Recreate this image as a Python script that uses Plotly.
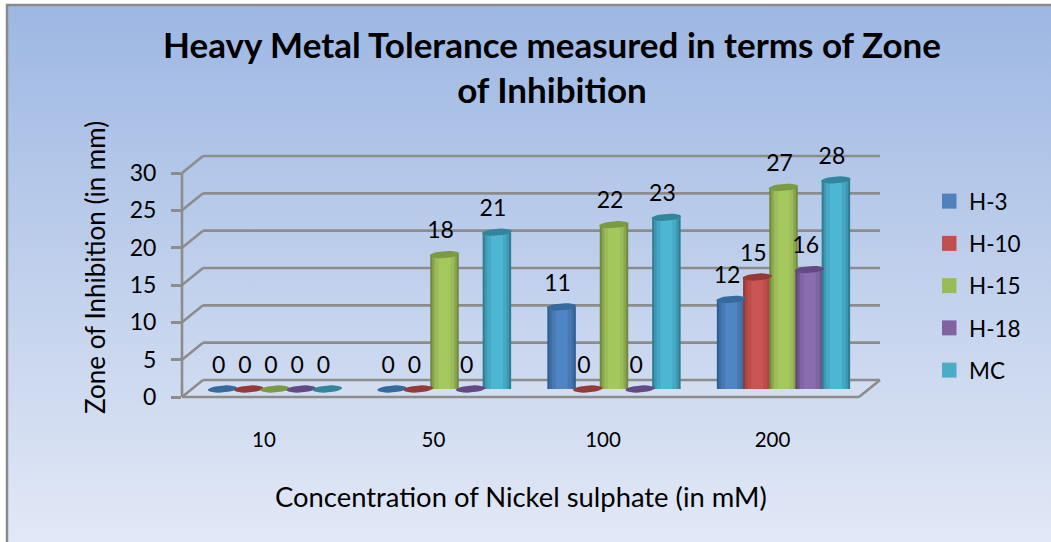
import math
import plotly.graph_objects as go

categories = ["10", "50", "100", "200"]
series_names = ["H-3", "H-10", "H-15", "H-18", "MC"]
h3 = [0, 0, 11, 12]
h10 = [0, 0, 0, 15]
h15 = [0, 18, 22, 27]
h18 = [0, 0, 0, 16]
mc = [0, 21, 23, 28]
series_values = [h3, h10, h15, h18, mc]
y_ticks = [0, 5, 10, 15, 20, 25, 30]
title_text = "Heavy Metal Tolerance measured in terms of Zone<br>of Inhibition"
x_title = "Concentration of Nickel sulphate (in mM)"
y_title = "Zone of Inhibition (in mm)"

base_colors = ["#4F81BD", "#C0504D", "#9BBB59", "#8064A2", "#4BACC6"]
shades = [
    ["#2F5D8F", "#3D6FA6", "#4778B2", "#4F85C4"],
    ["#8F3B39", "#AA4644", "#BC4D4B", "#CB5552"],
    ["#72893F", "#8BA74E", "#9BBC58", "#A4C75E"],
    ["#5B4677", "#71598F", "#8064A4", "#8A6CB0"],
    ["#2F7D93", "#3E98B1", "#46A8C4", "#4DB6D3"],
]
top_colors = ["#366A9F", "#943A38", "#7C9A46", "#634A87", "#31859C"]
layer_fracs = [1.0, 0.86, 0.68, 0.42]

W, H = 1051, 542
L, R, T, B = 182, 880, 120, 397
PX_Y = 224 / 30
PX_GROUP = 169.5
GROUP0 = 275
PX_STEP = 26.2
BAR_PX = 28.5
BASE = 8 / PX_Y
DX_WALL = 21

x_min = (L - GROUP0) / PX_GROUP
x_max = (R - GROUP0) / PX_GROUP
y_max = (B - T) / PX_Y


def dx(px):
    return px / PX_GROUP


def paper_x(px):
    return (px - L) / (R - L)


def paper_y(px):
    return (B - px) / (B - T)


fig = go.Figure()

for s, name in enumerate(series_names):
    xs = [i + dx((s - 2) * PX_STEP) for i in range(len(categories))]
    for frac, col in zip(layer_fracs, shades[s]):
        fig.add_trace(go.Bar(
            x=xs, y=series_values[s], base=[BASE] * len(xs),
            width=[dx(BAR_PX) * frac] * len(xs),
            marker=dict(color=col, line=dict(width=0)),
            showlegend=False, hoverinfo="skip",
        ))
    ex, ey = [], []
    for xc, v in zip(xs, series_values[s]):
        for a in range(0, 361, 15):
            ca, sa = math.cos(math.radians(a)), math.sin(math.radians(a))
            ex.append(xc + dx(BAR_PX / 2 + 0.5) * ca)
            ey.append(v + BASE + (3.5 * sa + 1.0 * ca) / PX_Y)
        ex.append(None)
        ey.append(None)
    fig.add_trace(go.Scatter(
        x=ex, y=ey, mode="lines", fill="toself", fillcolor=top_colors[s],
        line=dict(width=0, color=top_colors[s]),
        showlegend=False, hoverinfo="skip",
    ))

for s, name in enumerate(series_names):
    xs = [i + dx((s - 2) * PX_STEP - 4) for i in range(len(categories))]
    ys = [v + BASE + 22 / PX_Y for v in series_values[s]]
    fig.add_trace(go.Scatter(
        x=xs, y=ys, mode="text", text=[str(v) for v in series_values[s]],
        textfont=dict(family="Lato", size=23, color="#000000"),
        textposition="middle center", showlegend=False, hoverinfo="skip",
        cliponaxis=False,
    ))

for s, name in enumerate(series_names):
    fig.add_trace(go.Scatter(
        x=[None], y=[None], mode="markers", name=name, legendgroup=name,
        marker=dict(symbol="square", size=15, color=base_colors[s]),
    ))

GRID = "#8C8C8C"
shapes = []
shapes.append(dict(type="path", xref="paper", yref="paper", layer="below",
                   path=f"M {paper_x(L)} {paper_y(B)} L {paper_x(L+DX_WALL)} {paper_y(B-17)} "
                        f"L {paper_x(R)} {paper_y(B-17)} L {paper_x(R-DX_WALL)} {paper_y(B)} Z",
                   fillcolor="rgba(228,234,247,0.2)", line=dict(width=0)))
for t in y_ticks:
    py = B - t * PX_Y
    shapes.append(dict(type="line", xref="paper", yref="paper", layer="below",
                       x0=paper_x(L + DX_WALL), x1=paper_x(R), y0=paper_y(py - 17), y1=paper_y(py - 17),
                       line=dict(color=GRID, width=2.6)))
    shapes.append(dict(type="line", xref="paper", yref="paper", layer="below",
                       x0=paper_x(L), x1=paper_x(L + DX_WALL), y0=paper_y(py), y1=paper_y(py - 17),
                       line=dict(color=GRID, width=2.6)))
shapes.append(dict(type="line", xref="paper", yref="paper", layer="below",
                   x0=paper_x(L), x1=paper_x(L), y0=paper_y(B), y1=paper_y(B - 30 * PX_Y),
                   line=dict(color=GRID, width=2.6)))
shapes.append(dict(type="line", xref="paper", yref="paper", layer="below",
                   x0=paper_x(L), x1=paper_x(R - DX_WALL), y0=paper_y(B), y1=paper_y(B),
                   line=dict(color=GRID, width=2.6)))
shapes.append(dict(type="line", xref="paper", yref="paper", layer="below",
                   x0=paper_x(R - DX_WALL), x1=paper_x(R), y0=paper_y(B), y1=paper_y(B - 17),
                   line=dict(color=GRID, width=2.6)))
shapes.append(dict(type="rect", xref="paper", yref="paper", layer="below",
                   x0=paper_x(7), x1=paper_x(W + 10), y0=paper_y(5), y1=paper_y(H + 10),
                   line=dict(color="#8A8A8A", width=2.5), fillcolor="rgba(0,0,0,0)"))

svg = ("data:image/svg+xml;utf8,<svg xmlns='http://www.w3.org/2000/svg' width='100' height='100' "
       "preserveAspectRatio='none'><defs><linearGradient id='g' x1='0' y1='0' x2='0' y2='1'>"
       "<stop offset='0' stop-color='%239DB7E3'/><stop offset='0.5' stop-color='%23C0D0EC'/>"
       "<stop offset='1' stop-color='%23E2E8F6'/></linearGradient></defs>"
       "<rect width='100' height='100' fill='url(%23g)'/></svg>")

annotations = [
    dict(text=x_title, xref="paper", yref="paper", x=paper_x(521), y=paper_y(496),
         xanchor="center", yanchor="middle", showarrow=False,
         font=dict(family="Lato", size=27.4, color="#000000")),
    dict(text=y_title, xref="paper", yref="paper", x=paper_x(95), y=paper_y(268),
         xanchor="center", yanchor="middle", showarrow=False, textangle=-90,
         font=dict(family="Lato", size=26, color="#000000")),
]

fig.update_layout(
    width=W, height=H, autosize=False,
    margin=dict(l=L, r=W - R, t=T, b=H - B),
    paper_bgcolor="#FFFFFF", plot_bgcolor="rgba(0,0,0,0)",
    barmode="overlay",
    font=dict(family="Lato", color="#000000", size=22),
    title=dict(text=title_text, x=552 / W, xanchor="center", y=0.893, yanchor="top",
               font=dict(family="Lato", size=35, color="#000000", weight="bold")),
    xaxis=dict(range=[x_min, x_max], tickmode="array",
               tickvals=[i - 11 / PX_GROUP for i in range(len(categories))], ticktext=categories,
               showgrid=False, zeroline=False, showline=False, ticks="",
               ticklabelstandoff=28, tickfont=dict(family="Lato", size=20.5)),
    yaxis=dict(range=[0, y_max], tickmode="array", tickvals=y_ticks,
               showgrid=False, zeroline=False, showline=False,
               ticks="outside", ticklen=10, tickwidth=2.6, tickcolor=GRID,
               ticklabelstandoff=10, tickfont=dict(family="Lato", size=23)),
    legend=dict(x=paper_x(942), xanchor="left", y=paper_y(180), yanchor="top",
                bgcolor="rgba(0,0,0,0)", tracegroupgap=10, font=dict(family="Lato", size=22.5),
                indentation=-13, itemclick=False, itemdoubleclick=False),
    shapes=shapes,
    annotations=annotations,
    images=[dict(source=svg, xref="paper", yref="paper", x=paper_x(7), y=paper_y(5),
                 sizex=paper_x(W) - paper_x(7), sizey=paper_y(5) - paper_y(H),
                 sizing="stretch", xanchor="left", yanchor="top", layer="below")],
)

fig.write_html("out.html", config={"displayModeBar": False},
               post_script="document.body.style.margin='0';document.body.style.overflow='hidden';")
